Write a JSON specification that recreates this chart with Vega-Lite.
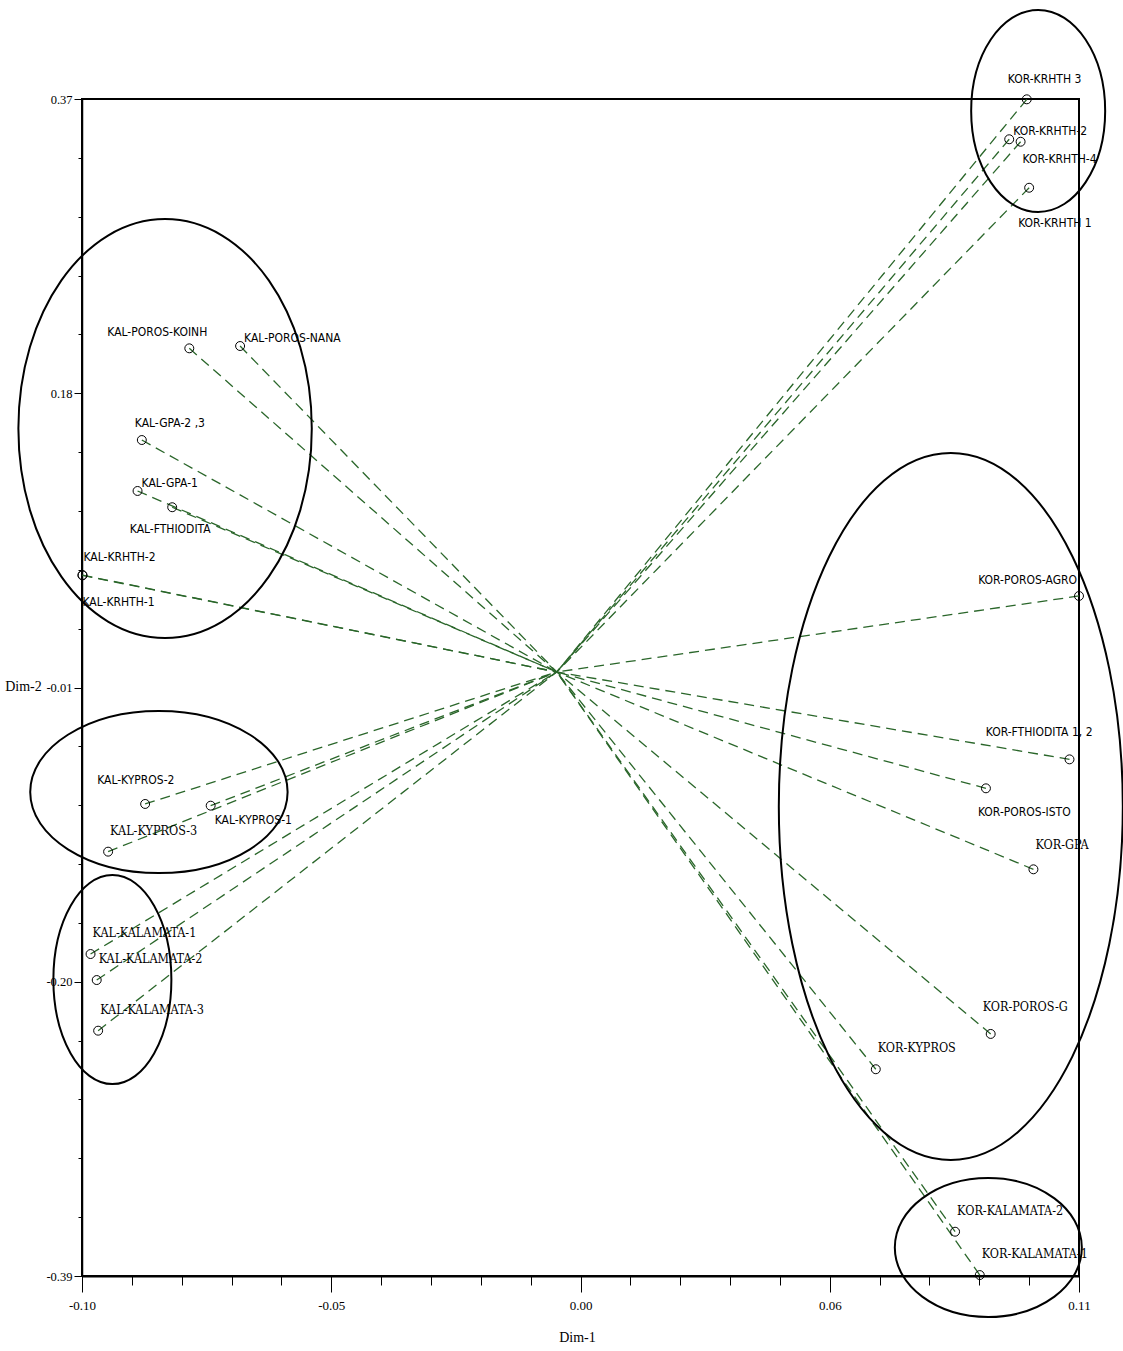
{
  "$schema": "https://vega.github.io/schema/vega-lite/v6.json",
  "width": 997,
  "height": 1177,
  "autosize": "none",
  "padding": {"left": 82, "top": 99, "right": 44, "bottom": 75},
  "background": "white",
  "config": {"view": {"stroke": "black", "strokeWidth": 2}},
  "datasets": {
    "pts": [
      {"name": "KAL-POROS-KOINH", "x": -0.0774, "y": 0.2090},
      {"name": "KAL-POROS-NANA", "x": -0.0667, "y": 0.2105},
      {"name": "KAL-GPA-2 ,3", "x": -0.0874, "y": 0.1498},
      {"name": "KAL-GPA-1", "x": -0.0883, "y": 0.1169},
      {"name": "KAL-FTHIODITA", "x": -0.0810, "y": 0.1064},
      {"name": "KAL-KRHTH-2", "x": -0.0999, "y": 0.0626},
      {"name": "KAL-KRHTH-1", "x": -0.0999, "y": 0.0624},
      {"name": "KAL-KYPROS-2", "x": -0.0867, "y": -0.0852},
      {"name": "KAL-KYPROS-1", "x": -0.0729, "y": -0.0863},
      {"name": "KAL-KYPROS-3", "x": -0.0945, "y": -0.1160},
      {"name": "KAL-KALAMATA-1", "x": -0.0982, "y": -0.1821},
      {"name": "KAL-KALAMATA-2", "x": -0.0969, "y": -0.1989},
      {"name": "KAL-KALAMATA-3", "x": -0.0966, "y": -0.2316},
      {"name": "KOR-KRHTH 3", "x": 0.0990, "y": 0.3698},
      {"name": "KOR-KRHTH-2", "x": 0.0953, "y": 0.3440},
      {"name": "KOR-KRHTH-4", "x": 0.0977, "y": 0.3424},
      {"name": "KOR-KRHTH 1", "x": 0.0995, "y": 0.3127},
      {"name": "KOR-POROS-AGRO", "x": 0.1100, "y": 0.0491},
      {"name": "KOR-FTHIODITA 1, 2", "x": 0.1080, "y": -0.0564},
      {"name": "KOR-POROS-ISTO", "x": 0.0904, "y": -0.0751},
      {"name": "KOR-GPA", "x": 0.1004, "y": -0.1274},
      {"name": "KOR-POROS-G", "x": 0.0914, "y": -0.2337},
      {"name": "KOR-KYPROS", "x": 0.0672, "y": -0.2565},
      {"name": "KOR-KALAMATA-2", "x": 0.0839, "y": -0.3614},
      {"name": "KOR-KALAMATA-1", "x": 0.0891, "y": -0.3894}
    ],
    "ell": [
      {"group": "KOR-KRHTH", "x": 0.1014, "y": 0.3623},
      {"group": "KAL-top", "x": -0.0825, "y": 0.1572},
      {"group": "KAL-KYPROS", "x": -0.0838, "y": -0.0775},
      {"group": "KAL-KALAMATA", "x": -0.0936, "y": -0.1986},
      {"group": "KOR-mid", "x": 0.0830, "y": -0.0868},
      {"group": "KOR-KALAMATA", "x": 0.0909, "y": -0.3716}
    ]
  },
  "data": {"name": "pts"},
  "layer": [
    {
      "mark": {"type": "rule", "color": "#2a662a", "strokeWidth": 1.3, "strokeDash": [10, 6]},
      "encoding": {
        "x": {
          "field": "x", "type": "quantitative",
          "scale": {"domain": [-0.1, 0.11], "nice": false, "zero": false},
          "axis": {
            "title": "Dim-1",
            "values": [-0.1, -0.0895, -0.079, -0.0685, -0.058, -0.0475, -0.037, -0.0265, -0.016, -0.0055, 0.005, 0.0155, 0.026, 0.0365, 0.047, 0.0575, 0.068, 0.0785, 0.089, 0.0995, 0.11],
            "labelExpr": "abs((datum.value+0.1)/0.0525-round((datum.value+0.1)/0.0525))<0.01 ? ['-0.10','-0.05','0.00','0.06','0.11'][round((datum.value+0.1)/0.0525)] : ''",
            "tickSize": {"condition": {"test": "abs((datum.value+0.1)/0.0525-round((datum.value+0.1)/0.0525))<0.01", "value": 16}, "value": 9},
            "tickColor": "black", "tickWidth": 1,
            "domainColor": "black", "domainWidth": 2,
            "labelFont": "Liberation Serif", "labelFontSize": 13, "labelColor": "black",
            "labelPadding": 7, "labelOverlap": false, "labelFlush": false,
            "grid": false,
            "titleFont": "Liberation Serif", "titleFontSize": 14, "titleFontWeight": "normal", "titleColor": "black",
            "titleX": 495, "titleY": 61, "titleBaseline": "middle"
          }
        },
        "y": {
          "field": "y", "type": "quantitative",
          "scale": {"domain": [-0.39, 0.37], "nice": false, "zero": false},
          "axis": {
            "title": "Dim-2",
            "values": [-0.39, -0.352, -0.314, -0.276, -0.238, -0.2, -0.162, -0.124, -0.086, -0.048, -0.01, 0.028, 0.066, 0.104, 0.142, 0.18, 0.218, 0.256, 0.294, 0.332, 0.37],
            "labelExpr": "abs((datum.value+0.39)/0.19-round((datum.value+0.39)/0.19))<0.01 ? replace(format(datum.value, '.2f'), '\u2212', '-') : ''",
            "tickSize": {"condition": {"test": "abs((datum.value+0.39)/0.19-round((datum.value+0.39)/0.19))<0.01", "value": 8}, "value": 4},
            "tickColor": "black", "tickWidth": 1,
            "domainColor": "black", "domainWidth": 1.5,
            "labelFont": "Liberation Serif", "labelFontSize": 12.5, "labelColor": "black",
            "labelPadding": 2, "labelOverlap": false, "labelFlush": false,
            "grid": false,
            "titleFont": "Liberation Serif", "titleFontSize": 14, "titleFontWeight": "normal", "titleColor": "black",
            "titleAngle": 0, "titleX": -59, "titleY": 587, "titleAlign": "center", "titleBaseline": "middle"
          }
        },
        "x2": {"datum": 0},
        "y2": {"datum": 0}
      }
    },
    {
      "mark": {"type": "point", "shape": "circle", "filled": false, "stroke": "black", "strokeWidth": 1, "size": 80, "opacity": 1},
      "encoding": {
        "x": {"field": "x", "type": "quantitative"},
        "y": {"field": "y", "type": "quantitative"}
      }
    },
    {
      "encoding": {
        "x": {"field": "x", "type": "quantitative"},
        "y": {"field": "y", "type": "quantitative"},
        "text": {"field": "name", "type": "nominal"}
      },
      "layer": [
        {"transform": [{"filter": "datum.name === 'KAL-POROS-KOINH'"}], "mark": {"type": "text", "font": "DejaVu Sans Condensed, DejaVu Sans", "fontSize": 12, "color": "#000", "baseline": "middle", "align": "right", "dx": 18, "dy": -16}},
        {"transform": [{"filter": {"field": "name", "oneOf": ["KAL-POROS-NANA", "KAL-GPA-1", "KOR-KRHTH-2"]}}], "mark": {"type": "text", "font": "DejaVu Sans Condensed, DejaVu Sans", "fontSize": 12, "color": "#000", "baseline": "middle", "align": "left", "dx": 4, "dy": -8}},
        {"transform": [{"filter": "datum.name === 'KAL-GPA-2 ,3'"}], "mark": {"type": "text", "font": "DejaVu Sans Condensed, DejaVu Sans", "fontSize": 12, "color": "#000", "baseline": "middle", "align": "left", "dx": -7, "dy": -17}},
        {"transform": [{"filter": "datum.name === 'KAL-FTHIODITA'"}], "mark": {"type": "text", "font": "DejaVu Sans Condensed, DejaVu Sans", "fontSize": 12, "color": "#000", "baseline": "middle", "align": "center", "dx": -2, "dy": 22}},
        {"transform": [{"filter": "datum.name === 'KAL-KRHTH-2'"}], "mark": {"type": "text", "font": "DejaVu Sans Condensed, DejaVu Sans", "fontSize": 12, "color": "#000", "baseline": "middle", "align": "left", "dx": 1, "dy": -18}},
        {"transform": [{"filter": "datum.name === 'KAL-KRHTH-1'"}], "mark": {"type": "text", "font": "DejaVu Sans Condensed, DejaVu Sans", "fontSize": 12, "color": "#000", "baseline": "middle", "align": "left", "dx": 0, "dy": 27}},
        {"transform": [{"filter": "datum.name === 'KAL-KYPROS-2'"}], "mark": {"type": "text", "font": "DejaVu Sans Condensed, DejaVu Sans", "fontSize": 12, "color": "#000", "baseline": "middle", "align": "left", "dx": -48, "dy": -24}},
        {"transform": [{"filter": "datum.name === 'KAL-KYPROS-1'"}], "mark": {"type": "text", "font": "DejaVu Sans Condensed, DejaVu Sans", "fontSize": 12, "color": "#000", "baseline": "middle", "align": "left", "dx": 4, "dy": 14}},
        {"transform": [{"filter": "datum.name === 'KOR-KRHTH 3'"}], "mark": {"type": "text", "font": "DejaVu Sans Condensed, DejaVu Sans", "fontSize": 12, "color": "#000", "baseline": "middle", "align": "left", "dx": -19, "dy": -20}},
        {"transform": [{"filter": "datum.name === 'KOR-KRHTH-4'"}], "mark": {"type": "text", "font": "DejaVu Sans Condensed, DejaVu Sans", "fontSize": 12, "color": "#000", "baseline": "middle", "align": "left", "dx": 2, "dy": 17}},
        {"transform": [{"filter": "datum.name === 'KOR-KRHTH 1'"}], "mark": {"type": "text", "font": "DejaVu Sans Condensed, DejaVu Sans", "fontSize": 12, "color": "#000", "baseline": "middle", "align": "left", "dx": -11, "dy": 35}},
        {"transform": [{"filter": "datum.name === 'KOR-POROS-AGRO'"}], "mark": {"type": "text", "font": "DejaVu Sans Condensed, DejaVu Sans", "fontSize": 12, "color": "#000", "baseline": "middle", "align": "right", "dx": -2, "dy": -16}},
        {"transform": [{"filter": "datum.name === 'KOR-FTHIODITA 1, 2'"}], "mark": {"type": "text", "font": "DejaVu Sans Condensed, DejaVu Sans", "fontSize": 12, "color": "#000", "baseline": "middle", "align": "right", "dx": 23, "dy": -27}},
        {"transform": [{"filter": "datum.name === 'KOR-POROS-ISTO'"}], "mark": {"type": "text", "font": "DejaVu Sans Condensed, DejaVu Sans", "fontSize": 12, "color": "#000", "baseline": "middle", "align": "left", "dx": -8, "dy": 24}},
        {"transform": [{"filter": {"field": "name", "oneOf": ["KAL-KYPROS-3", "KAL-KALAMATA-1", "KAL-KALAMATA-2", "KAL-KALAMATA-3", "KOR-KYPROS", "KOR-KALAMATA-2", "KOR-KALAMATA-1"]}}], "mark": {"type": "text", "font": "DejaVu Serif Condensed, DejaVu Serif", "fontSize": 12.5, "color": "#000", "baseline": "middle", "align": "left", "dx": 2, "dy": -21}},
        {"transform": [{"filter": "datum.name === 'KOR-GPA'"}], "mark": {"type": "text", "font": "DejaVu Serif Condensed, DejaVu Serif", "fontSize": 12.5, "color": "#000", "baseline": "middle", "align": "left", "dx": 2, "dy": -24}},
        {"transform": [{"filter": "datum.name === 'KOR-POROS-G'"}], "mark": {"type": "text", "font": "DejaVu Serif Condensed, DejaVu Serif", "fontSize": 12.5, "color": "#000", "baseline": "middle", "align": "left", "dx": -8, "dy": -27}}
      ]
    },
    {
      "data": {"name": "ell"},
      "mark": {"type": "point", "filled": false, "stroke": "black", "strokeWidth": 2, "size": 4, "opacity": 1},
      "encoding": {
        "x": {"field": "x", "type": "quantitative"},
        "y": {"field": "y", "type": "quantitative"},
        "shape": {
          "field": "group", "type": "nominal", "legend": null,
          "scale": {
            "domain": ["KOR-KRHTH", "KAL-top", "KAL-KYPROS", "KAL-KALAMATA", "KOR-mid", "KOR-KALAMATA"],
            "range": [
              "M67,0C67,55.8 37,101 0,101C-37,101 -67,55.8 -67,0C-67,-55.8 -37,-101 0,-101C37,-101 67,-55.8 67,0Z",
              "M146.7,0C146.7,115.7 81,209.5 0,209.5C-81,209.5 -146.7,115.7 -146.7,0C-146.7,-115.7 -81,-209.5 0,-209.5C81,-209.5 146.7,-115.7 146.7,0Z",
              "M128.7,0C128.7,44.7 71.1,81 0,81C-71.1,81 -128.7,44.7 -128.7,0C-128.7,-44.7 -71.1,-81 0,-81C71.1,-81 128.7,-44.7 128.7,0Z",
              "M59,0C59,57.7 32.6,104.5 0,104.5C-32.6,104.5 -59,57.7 -59,0C-59,-57.7 -32.6,-104.5 0,-104.5C32.6,-104.5 59,-57.7 59,0Z",
              "M172,0C172,195.2 95,353.5 0,353.5C-95,353.5 -172,195.2 -172,0C-172,-195.2 -95,-353.5 0,-353.5C95,-353.5 172,-195.2 172,0Z",
              "M93.5,0C93.5,38.4 51.6,69.5 0,69.5C-51.6,69.5 -93.5,38.4 -93.5,0C-93.5,-38.4 -51.6,-69.5 0,-69.5C51.6,-69.5 93.5,-38.4 93.5,0Z"
            ]
          }
        }
      }
    }
  ]
}
